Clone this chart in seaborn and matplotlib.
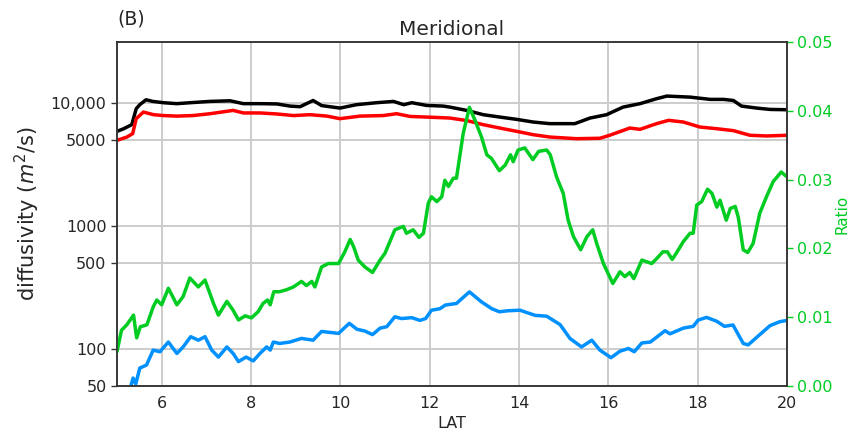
import matplotlib
matplotlib.use("Agg")
import matplotlib.pyplot as plt
import matplotlib.ticker as mticker
import seaborn as sns

# Total diffusivity (black)
lat_total = [5.0, 5.15, 5.33, 5.43, 5.51, 5.65, 5.8, 6.04, 6.34, 6.64, 7.08, 7.53, 7.83,
             8.2, 8.58, 8.87, 9.1, 9.39, 9.58, 9.99, 10.36, 10.81, 11.19, 11.42, 11.6,
             11.93, 12.3, 12.45, 12.83, 13.2, 13.57, 13.95, 14.32, 14.69, 15.25, 15.59,
             15.96, 16.33, 16.71, 17.08, 17.31, 17.83, 18.28, 18.58, 18.8, 18.98, 19.32,
             19.62, 20.0]
total = [5920, 6220, 6710, 9050, 9760, 10700, 10380, 10130, 9950, 10130, 10380, 10500, 9950,
         9950, 9900, 9510, 9400, 10560, 9600, 9160, 9760, 10130, 10380, 9760, 10130,
         9630, 9510, 9330, 8770, 8090, 7740, 7410, 7050, 6840, 6840, 7600,
         8090, 9330, 9950, 10920, 11470, 11250, 10780, 10780, 10560, 9510, 9160,
         8930, 8880]

# Mean-flow diffusivity (red)
lat_mean = [5.0, 5.22, 5.35, 5.43, 5.59, 5.82, 6.04, 6.34, 6.7, 7.08, 7.6, 7.83, 8.2, 8.58,
            8.95, 9.32, 9.7, 9.99, 10.44, 10.96, 11.26, 11.56, 11.93, 12.45, 12.83, 13.2,
            13.57, 13.95, 14.32, 14.69, 15.29, 15.81, 16.03, 16.48, 16.71, 17.08, 17.35,
            17.68, 18.05, 18.43, 18.8, 19.17, 19.55, 20.0]
mean = [5000, 5320, 5670, 7510, 8500, 8090, 7960, 7880, 7960, 8240, 8770, 8360, 8360, 8200,
        7960, 8090, 7880, 7510, 7880, 7960, 8240, 7830, 7740, 7600, 7250, 6710,
        6300, 5920, 5560, 5320, 5160, 5200, 5500, 6300, 6150, 6840, 7280,
        7050, 6420, 6220, 6000, 5500, 5430, 5500]

# Eddy diffusivity (blue)
lat_eddy = [5.25, 5.31, 5.36, 5.42, 5.51, 5.66, 5.81, 5.96, 6.15, 6.34, 6.48, 6.65, 6.82,
            6.97, 7.12, 7.27, 7.46, 7.6, 7.72, 7.89, 8.05, 8.2, 8.35, 8.43, 8.5, 8.64,
            8.87, 9.13, 9.39, 9.58, 9.96, 10.2, 10.37, 10.55, 10.72, 10.89, 11.04, 11.22,
            11.37, 11.6, 11.78, 11.91, 12.04, 12.23, 12.35, 12.6, 12.89, 13.16, 13.39,
            13.56, 13.76, 14.02, 14.36, 14.62, 14.92, 15.14, 15.4, 15.63, 15.81, 16.06,
            16.26, 16.45, 16.58, 16.75, 16.94, 17.27, 17.38, 17.68, 17.9, 18.01, 18.2,
            18.43, 18.6, 18.79, 19.02, 19.13, 19.39, 19.62, 19.84, 20.0]
eddy = [45, 50, 58, 52, 70, 74, 98, 95, 114, 92, 104, 126, 118,
        126, 98, 86, 104, 92, 79, 86, 80, 92, 104, 98, 114, 111,
        114, 122, 118, 139, 134, 162, 145, 140, 131, 148, 152, 183,
        177, 180, 171, 177, 207, 213, 228, 235, 292, 242, 213,
        201, 205, 207, 188, 185, 158, 122, 104, 118, 98, 85,
        96, 101, 95, 112, 114, 141, 133, 148, 153, 172, 181,
        168, 153, 157, 111, 108, 131, 155, 167, 171]

# Eddy / mean ratio (green, right axis)
lat_ratio = [5.0, 5.1, 5.22, 5.37, 5.44, 5.52, 5.67, 5.81, 5.89, 6.0, 6.15, 6.34, 6.48,
             6.63, 6.82, 6.97, 7.16, 7.27, 7.46, 7.6, 7.72, 7.87, 8.01, 8.16, 8.27, 8.37,
             8.43, 8.51, 8.64, 8.8, 8.95, 9.13, 9.24, 9.36, 9.43, 9.58, 9.73, 9.96, 10.1,
             10.22, 10.3, 10.4, 10.55, 10.72, 10.89, 11.0, 11.11, 11.22, 11.41, 11.48,
             11.63, 11.76, 11.86, 11.97, 12.04, 12.16, 12.27, 12.34, 12.42, 12.53, 12.6,
             12.75, 12.89, 13.01, 13.16, 13.28, 13.38, 13.56, 13.69, 13.81, 13.87, 13.98,
             14.13, 14.31, 14.44, 14.62, 14.7, 14.84, 14.99, 15.1, 15.22, 15.38, 15.52,
             15.65, 15.74, 15.89, 16.1, 16.26, 16.37, 16.48, 16.57, 16.75, 16.97, 17.08,
             17.22, 17.32, 17.43, 17.54, 17.68, 17.83, 17.9, 17.98, 18.09, 18.22, 18.32,
             18.43, 18.5, 18.64, 18.73, 18.84, 18.91, 19.02, 19.12, 19.24, 19.39, 19.54,
             19.69, 19.87, 20.0]
ratio = [0.0050, 0.0081, 0.0089, 0.0103, 0.0070, 0.0086, 0.0089, 0.0115, 0.0125, 0.0118,
         0.0142, 0.0118, 0.0130, 0.0157, 0.0144, 0.0154, 0.0120, 0.0103, 0.0123, 0.0110,
         0.0096, 0.0102, 0.0099, 0.0108, 0.0120, 0.0125, 0.0118, 0.0137, 0.0137, 0.0140,
         0.0144, 0.0152, 0.0146, 0.0152, 0.0144, 0.0173, 0.0178, 0.0178, 0.0195, 0.0213,
         0.0202, 0.0183, 0.0173, 0.0165, 0.0183, 0.0193, 0.0210, 0.0227, 0.0232, 0.0222,
         0.0227, 0.0216, 0.0222, 0.0266, 0.0275, 0.0268, 0.0275, 0.0299, 0.0290, 0.0302,
         0.0302, 0.0367, 0.0405, 0.0387, 0.0362, 0.0336, 0.0331, 0.0313, 0.0321, 0.0336,
         0.0326, 0.0343, 0.0346, 0.0329, 0.0341, 0.0343, 0.0336, 0.0304, 0.0280, 0.0241,
         0.0217, 0.0198, 0.0217, 0.0227, 0.0207, 0.0178, 0.0149, 0.0166, 0.0159, 0.0165,
         0.0156, 0.0183, 0.0178, 0.0185, 0.0195, 0.0195, 0.0184, 0.0195, 0.0210, 0.0222,
         0.0222, 0.0263, 0.0268, 0.0286, 0.0280, 0.0260, 0.0270, 0.0241, 0.0258, 0.0261,
         0.0245, 0.0198, 0.0194, 0.0207, 0.0251, 0.0275, 0.0297, 0.0311, 0.0304]

diff_ticks = [50, 100, 500, 1000, 5000, 10000]
diff_ticklabels = ["50", "100", "500", "1000", "5000", "10,000"]
lat_ticks = [6, 8, 10, 12, 14, 16, 18, 20]
ratio_ticks = [0.00, 0.01, 0.02, 0.03, 0.04, 0.05]

GREEN = "#00cc22"
BLUE = "#0091ff"

sns.set_style("white")
plt.rcParams["font.family"] = ["DejaVu Sans"]

fig = plt.figure(figsize=(8.51, 4.32), dpi=100)
ax = fig.add_axes([0.1375, 0.1065, 0.7873, 0.7963])
ax2 = ax.twinx()

lw = 2.5
sns.lineplot(x=lat_total, y=total, ax=ax, color="black", linewidth=lw, legend=False)
sns.lineplot(x=lat_mean, y=mean, ax=ax, color="#ff0000", linewidth=lw, legend=False)
sns.lineplot(x=lat_eddy, y=eddy, ax=ax, color=BLUE, linewidth=lw, legend=False)
sns.lineplot(x=lat_ratio, y=ratio, ax=ax2, color=GREEN, linewidth=lw, legend=False)

ax.set_yscale("log")
ax.set_ylim(50, 10 ** 4.5)
ax.set_xlim(5, 20)
ax.set_yticks(diff_ticks)
ax.set_yticklabels(diff_ticklabels)
ax.yaxis.set_minor_locator(mticker.NullLocator())
ax.set_xticks(lat_ticks)
ax.tick_params(axis="both", labelsize=11.5, length=4, width=1, color="#333333")
ax.grid(True, color="#cccccc", linewidth=1.4)
ax.set_axisbelow(True)
ax.set_xlabel("LAT", fontsize=11.5, labelpad=3)
ax.set_ylabel("diffusivity ($m^2$/s)", fontsize=15, labelpad=6)

ax2.set_ylim(0, 0.05)
ax2.set_yticks(ratio_ticks)
ax2.set_yticklabels([f"{t:.2f}" for t in ratio_ticks])
ax2.tick_params(axis="y", labelsize=11.5, colors=GREEN, length=4, width=1)
ax2.set_ylabel("Ratio", fontsize=11, color=GREEN, labelpad=1)
ax2.grid(False)

for a in (ax, ax2):
    for s in a.spines.values():
        s.set_color("#333333")
        s.set_linewidth(1.1)

ax.set_title("Meridional", fontsize=14.5, pad=5)
fig.text(0.138, 0.955, "(B)", fontsize=13.5, ha="left", va="center")

fig.savefig("out.png", dpi=100)
